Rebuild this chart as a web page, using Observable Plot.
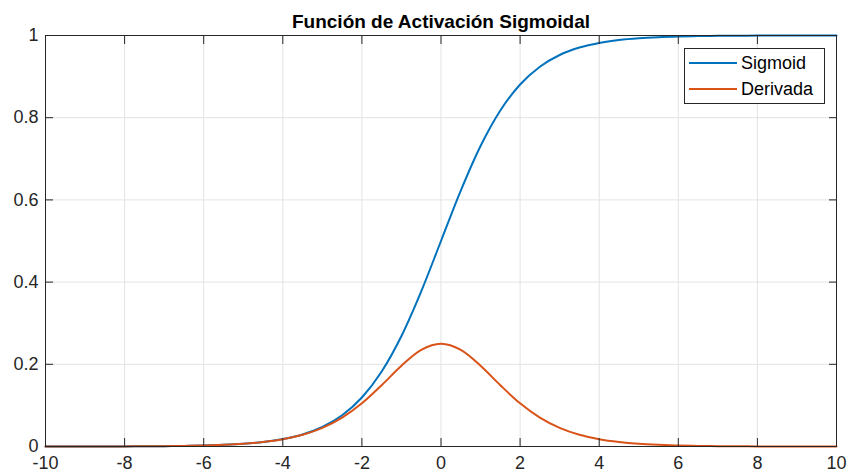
<!DOCTYPE html>
<html>
<head>
<meta charset="utf-8">
<script src="https://cdn.jsdelivr.net/npm/d3@7"></script>
<script src="https://cdn.jsdelivr.net/npm/@observablehq/plot@0.6"></script>
<style>
  html, body { margin: 0; padding: 0; background: #fff; }
  #chart svg { display: block; }
</style>
</head>
<body>
<div id="chart"></div>
<script>
const title = "Función de Activación Sigmoidal";
const seriesNames = ["Sigmoid", "Derivada"];
const xValues = [-10,-9.5,-9,-8.5,-8,-7.5,-7,-6.5,-6,-5.5,-5,-4.5,-4,-3.5,-3,-2.5,-2,-1.5,-1,-0.5,0,0.5,1,1.5,2,2.5,3,3.5,4,4.5,5,5.5,6,6.5,7,7.5,8,8.5,9,9.5,10];
const sigmoidValues = [0.0000,0.0001,0.0001,0.0002,0.0003,0.0006,0.0009,0.0015,0.0025,0.0041,0.0067,0.0110,0.0180,0.0293,0.0474,0.0759,0.1192,0.1824,0.2689,0.3775,0.5000,0.6225,0.7311,0.8176,0.8808,0.9241,0.9526,0.9707,0.9820,0.9890,0.9933,0.9959,0.9975,0.9985,0.9991,0.9994,0.9997,0.9998,0.9999,0.9999,1.0000];
const derivadaValues = [0.0000,0.0001,0.0001,0.0002,0.0003,0.0006,0.0009,0.0015,0.0025,0.0041,0.0066,0.0109,0.0177,0.0284,0.0452,0.0701,0.1050,0.1491,0.1966,0.2350,0.2500,0.2350,0.1966,0.1491,0.1050,0.0701,0.0452,0.0284,0.0177,0.0109,0.0066,0.0041,0.0025,0.0015,0.0009,0.0006,0.0003,0.0002,0.0001,0.0001,0.0000];
const xTicks = [-10,-8,-6,-4,-2,0,2,4,6,8,10];
const xTickLabels = ["-10","-8","-6","-4","-2","0","2","4","6","8","10"];
const yTicks = [0,0.2,0.4,0.6,0.8,1];
const yTickLabels = ["0","0.2","0.4","0.6","0.8","1"];

const colors = ["#0072BD", "#D95319"];
const data = [];
xValues.forEach((x, i) => {
  data.push({x, y: sigmoidValues[i], s: seriesNames[0]});
  data.push({x, y: derivadaValues[i], s: seriesNames[1]});
});

const font = "Liberation Sans, Arial, Helvetica, sans-serif";
const ink = "#262626";

const plot = Plot.plot({
  width: 848,
  height: 475,
  marginLeft: 45,
  marginRight: 12,
  marginTop: 35,
  marginBottom: 29,
  style: {fontFamily: font, fontSize: "18px", color: ink, background: "#fff"},
  x: {domain: [-10, 10], ticks: xTicks},
  y: {domain: [0, 1], ticks: yTicks},
  color: {domain: seriesNames, range: colors},
  marks: [
    Plot.gridX(xTicks, {stroke: "#e3e3e3", strokeOpacity: 1}),
    Plot.gridY(yTicks, {stroke: "#e3e3e3", strokeOpacity: 1}),
    Plot.axisX(xTicks, {anchor: "bottom", tickSize: 0, tickPadding: 10, label: null, fontSize: 18, fill: ink, tickFormat: (d, i) => xTickLabels[xTicks.indexOf(d)]}),
    Plot.axisY(yTicks, {anchor: "left", tickSize: 0, tickPadding: 7, label: null, fontSize: 18, fill: ink, tickFormat: (d) => yTickLabels[yTicks.indexOf(d)]}),
    Plot.line(data, {x: "x", y: "y", stroke: "s", z: "s", strokeWidth: 2, curve: "monotone-x"}),
    Plot.axisX(xTicks, {anchor: "bottom", tickSize: -8, text: null, label: null, stroke: ink}),
    Plot.axisX(xTicks, {anchor: "top", tickSize: -8, text: null, label: null, stroke: ink}),
    Plot.axisY(yTicks, {anchor: "left", tickSize: -8, text: null, label: null, stroke: ink}),
    Plot.axisY(yTicks, {anchor: "right", tickSize: -8, text: null, label: null, stroke: ink}),
    Plot.frame({stroke: ink, strokeWidth: 1}),
    Plot.text([title], {frameAnchor: "top", dy: -8, text: d => d, fontWeight: "bold", fontSize: 19, fill: "#000", lineAnchor: "bottom"})
  ]
});

const svg = d3.select(plot);
// legend inside plot area, drawn from series names/colours
const lg = svg.append("g").attr("transform", "translate(684,48)");
lg.append("rect").attr("x", 0.5).attr("y", 0.5).attr("width", 140).attr("height", 55)
  .attr("fill", "#fff").attr("stroke", ink).attr("stroke-width", 1);
seriesNames.forEach((name, i) => {
  const cy = 15 + i * 26;
  lg.append("line").attr("x1", 5).attr("x2", 53).attr("y1", cy).attr("y2", cy)
    .attr("stroke", colors[i]).attr("stroke-width", 2);
  lg.append("text").attr("x", 57).attr("y", cy).attr("dy", "0.35em")
    .attr("text-anchor", "start")
    .attr("font-family", font).attr("font-size", 18).attr("fill", "#000").text(name);
});

document.getElementById("chart").appendChild(plot);
</script>
</body>
</html>
